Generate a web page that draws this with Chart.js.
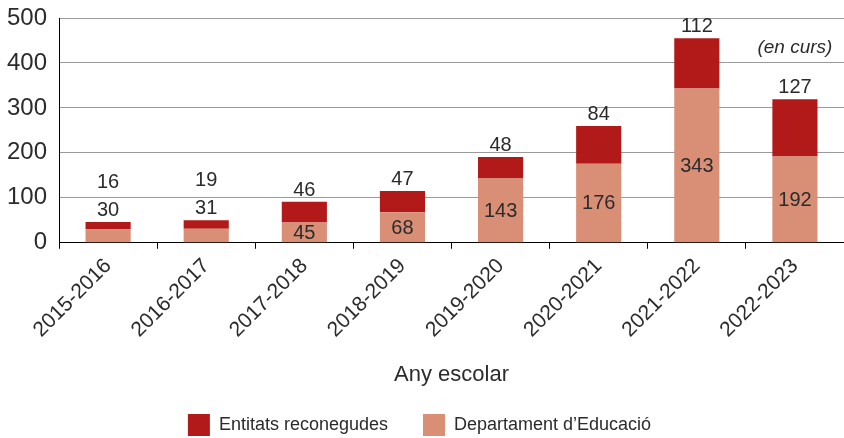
<!DOCTYPE html>
<html>
<head>
<meta charset="utf-8">
<script src="https://cdn.jsdelivr.net/npm/chart.js@4.4.1/dist/chart.umd.min.js"></script>
<style>
  html, body { margin: 0; padding: 0; background: #fff; }
  #wrap { width: 844px; height: 438px; }
</style>
</head>
<body>
<div id="wrap"><canvas id="chart" width="844" height="438"></canvas></div>
<script>
// school years and counts
const years = ['2015-2016', '2016-2017', '2017-2018', '2018-2019', '2019-2020', '2020-2021', '2021-2022', '2022-2023'];
const educacio = [30, 31, 45, 68, 143, 176, 343, 192];
const entitats = [16, 19, 46, 47, 48, 84, 112, 127];
const yMax = 500;
const yStep = 100;
const noteText = '(en curs)';

const FONT = '"Liberation Sans", Arial, sans-serif';
const TEXT = '#2b2b2b';

// numbers above / inside the bars, plus the "(en curs)" note
const valueLabels = {
  id: 'valueLabels',
  afterDatasetsDraw(chart) {
    const ctx = chart.ctx;
    const low = chart.getDatasetMeta(0).data;
    const high = chart.getDatasetMeta(1).data;
    ctx.save();
    ctx.font = '20px ' + FONT;
    ctx.fillStyle = TEXT;
    ctx.textAlign = 'center';
    low.forEach((bar, i) => {
      const top = high[i];
      const segH = bar.base - bar.y;
      if (segH > 16) {
        ctx.textBaseline = 'middle';
        ctx.fillText(educacio[i], bar.x, (bar.y + bar.base) / 2 + 1);
        ctx.textBaseline = 'alphabetic';
        ctx.fillText(entitats[i], top.x, top.y - 6);
      } else {
        ctx.textBaseline = 'alphabetic';
        ctx.fillText(educacio[i], top.x, top.y - 6);
        ctx.fillText(entitats[i], top.x, top.y - 34);
      }
    });
    const last = high[high.length - 1];
    ctx.font = 'italic 19px ' + FONT;
    ctx.textBaseline = 'middle';
    ctx.fillText(noteText, last.x, chart.scales.y.getPixelForValue(435));
    ctx.restore();
  }
};

new Chart(document.getElementById('chart'), {
  type: 'bar',
  data: {
    labels: years,
    datasets: [
      {
        label: 'Departament d\u2019Educació',
        data: educacio,
        backgroundColor: '#d98e76',
        barPercentage: 0.46,
        categoryPercentage: 1
      },
      {
        label: 'Entitats reconegudes',
        data: entitats,
        backgroundColor: '#b21a19',
        barPercentage: 0.46,
        categoryPercentage: 1
      }
    ]
  },
  options: {
    responsive: false,
    animation: false,
    layout: { padding: { left: -5, right: 0, top: 0, bottom: -8 } },
    plugins: {
      legend: {
        position: 'bottom',
        reverse: true,
        labels: {
          boxWidth: 22,
          boxHeight: 22,
          padding: 35,
          color: TEXT,
          font: { family: FONT, size: 18 }
        }
      },
      tooltip: { enabled: false }
    },
    scales: {
      x: {
        stacked: true,
        grid: {
          offset: true,
          drawOnChartArea: false,
          drawTicks: true,
          tickLength: 6,
          color: '#000'
        },
        border: { display: true, color: '#000', width: 1 },
        ticks: {
          color: TEXT,
          font: { family: FONT, size: 21 },
          minRotation: 45,
          maxRotation: 45,
          padding: 5
        },
        title: {
          display: true,
          text: 'Any escolar',
          color: TEXT,
          font: { family: FONT, size: 22 },
          padding: { top: 14, bottom: -9 }
        }
      },
      y: {
        stacked: true,
        min: 0,
        max: yMax,
        afterFit(scale) {
          // the "500" label may sit close to the top edge, like the original
          scale.paddingTop = 18;
        },
        grid: {
          color: '#9a9a9a',
          drawTicks: false
        },
        border: { display: true, color: '#000', width: 1 },
        ticks: {
          stepSize: yStep,
          color: TEXT,
          font: { family: FONT, size: 24 },
          padding: 12
        }
      }
    }
  },
  plugins: [valueLabels]
});
</script>
</body>
</html>
